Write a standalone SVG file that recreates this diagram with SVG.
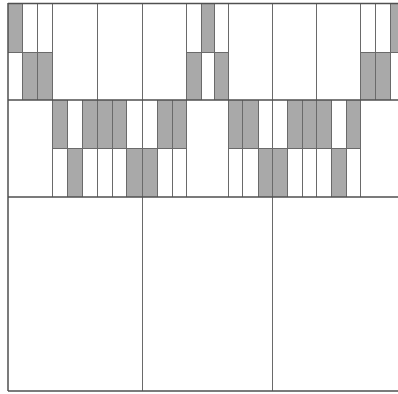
<svg xmlns="http://www.w3.org/2000/svg" width="398" height="394" viewBox="0 0 398 394">
<style>
.bg{fill:#ffffff}
.sh{fill:#a9a9a9}
.ln{stroke:#6a6a6a;stroke-width:1;fill:none}
.bd{stroke:#505050;stroke-width:1.5;fill:none}
</style>
<rect class="bg" x="0" y="0" width="398" height="394"/>
<g id="shading">
<rect class="sh" x="8" y="3" width="14" height="49"/>
<rect class="sh" x="201" y="3" width="13" height="49"/>
<rect class="sh" x="390" y="3" width="8" height="49"/>
<rect class="sh" x="22" y="52" width="30" height="48"/>
<rect class="sh" x="186" y="52" width="15" height="48"/>
<rect class="sh" x="214" y="52" width="14" height="48"/>
<rect class="sh" x="360" y="52" width="30" height="48"/>
<rect class="sh" x="52" y="100" width="15" height="48.5"/>
<rect class="sh" x="82" y="100" width="44" height="48.5"/>
<rect class="sh" x="157" y="100" width="29" height="48.5"/>
<rect class="sh" x="228" y="100" width="30" height="48.5"/>
<rect class="sh" x="287" y="100" width="44" height="48.5"/>
<rect class="sh" x="346" y="100" width="14" height="48.5"/>
<rect class="sh" x="67" y="148.5" width="15" height="48.5"/>
<rect class="sh" x="126" y="148.5" width="31" height="48.5"/>
<rect class="sh" x="258" y="148.5" width="29" height="48.5"/>
<rect class="sh" x="331" y="148.5" width="15" height="48.5"/>
</g>
<g id="grid">
<path class="ln" d="M8 52.5H52M186 52.5H228M360 52.5H398M52 148.5H186M228 148.5H360"/>
<path class="ln" d="M22.5 3V100M37.5 3V100M52.5 3V100M97.5 3V100M142.5 3V100M186.5 3V100M201.5 3V100M214.5 3V100M228.5 3V100M272.5 3V100M316.5 3V100M360.5 3V100M375.5 3V100M390.5 3V100"/>
<path class="ln" d="M52.5 100V197M67.5 100V197M82.5 100V197M97.5 100V197M112.5 100V197M126.5 100V197M142.5 100V197M157.5 100V197M172.5 100V197M186.5 100V197M228.5 100V197M242.5 100V197M258.5 100V197M272.5 100V197M287.5 100V197M302.5 100V197M316.5 100V197M331.5 100V197M346.5 100V197M360.5 100V197"/>
<path class="ln" d="M142.5 197V391M272.5 197V391"/>
<path class="bd" d="M8 3.5H398M8 100H398M8 197H398M8 391H398M8 3V391"/>
</g>
</svg>
